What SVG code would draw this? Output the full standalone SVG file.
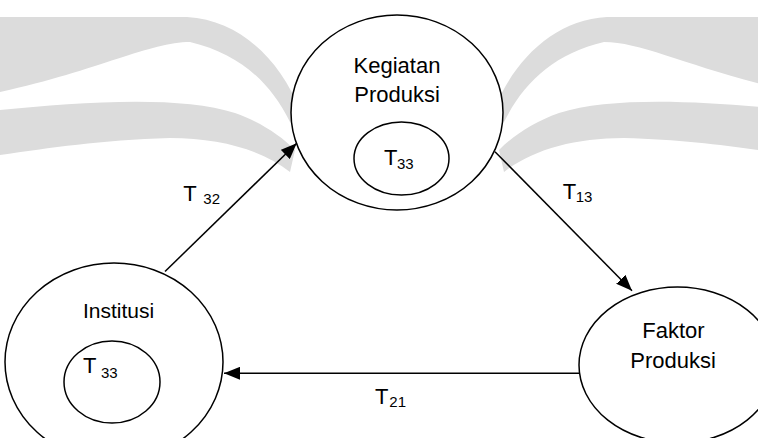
<svg xmlns="http://www.w3.org/2000/svg" width="758" height="438" viewBox="0 0 758 438">
  <style>
    .node { fill: #ffffff; stroke: #000000; stroke-width: 1.5; }
    .lbl { font-family: "Liberation Sans", Arial, sans-serif; fill: #000000; }
    .main { font-size: 22px; }
    .sub { font-size: 15px; }
    .edge { stroke: #000000; stroke-width: 1.5; fill: none; marker-end: url(#arrow); }
    .wm { fill: #dcdcdc; }
  </style>
  <defs>
    <marker id="arrow" markerUnits="userSpaceOnUse" markerWidth="16" markerHeight="13" refX="16" refY="6.5" orient="auto">
      <path d="M0,0 L16,6.5 L0,13 Z" fill="#000000"/>
    </marker>
  </defs>
  <rect width="758" height="438" fill="#ffffff"/>
  <g id="watermark">
    <g id="wm-left">
      <path class="wm" d="M0,17 L187,17 C240,20 280,60 300,110 L290,122 C270,82 240,54 190,42 C150,42 100,70 0,92 Z"/>
      <path class="wm" d="M0,110 C80,102 180,95 235,113 C260,122 280,135 295,150 L290,172 C262,150 220,138 170,138 C100,140 50,148 0,155 Z"/>
    </g>
    <g id="wm-right" transform="translate(794,0) scale(-1,1)">
      <path class="wm" d="M0,17 L187,17 C240,20 280,60 300,110 L290,122 C270,82 240,54 190,42 C150,42 100,70 0,92 Z"/>
      <path class="wm" d="M0,110 C80,102 180,95 235,113 C260,122 280,135 295,150 L290,172 C262,150 220,138 170,138 C100,140 50,148 0,155 Z"/>
    </g>
  </g>
  <g id="node-kegiatan">
    <ellipse class="node" cx="397" cy="112.5" rx="106" ry="97.5"/>
    <text class="lbl main" x="397" y="73.3" text-anchor="middle">Kegiatan</text>
    <text class="lbl main" x="397" y="101.7" text-anchor="middle">Produksi</text>
    <ellipse class="node" cx="401.5" cy="158.5" rx="47.5" ry="36.5"/>
    <text class="lbl"><tspan class="main" x="384" y="165">T</tspan><tspan class="sub" x="397" y="168.5">33</tspan></text>
  </g>
  <g id="node-institusi">
    <ellipse class="node" cx="114" cy="362" rx="109" ry="99"/>
    <text class="lbl" x="118.5" y="318.3" text-anchor="middle" font-size="21">Institusi</text>
    <ellipse class="node" cx="112" cy="382" rx="48" ry="41"/>
    <text class="lbl"><tspan class="main" x="83" y="373.3">T</tspan><tspan class="sub" x="101" y="377.7">33</tspan></text>
  </g>
  <g id="node-faktor">
    <ellipse class="node" cx="677.5" cy="365" rx="98.5" ry="78"/>
    <text class="lbl main" x="673.5" y="338.3" text-anchor="middle">Faktor</text>
    <text class="lbl main" x="673" y="368.3" text-anchor="middle">Produksi</text>
  </g>
  <g id="connectors">
    <line class="edge" x1="165" y1="271.5" x2="296.7" y2="143.3"/>
    <line class="edge" x1="495" y1="151.7" x2="632" y2="290.7"/>
    <line class="edge" x1="580" y1="373.3" x2="224" y2="373.3"/>
    <text class="lbl"><tspan class="main" x="183.3" y="200.7" font-size="23">T</tspan><tspan class="sub" x="203.3" y="204">32</tspan></text>
    <text class="lbl"><tspan class="main" x="562.7" y="199">T</tspan><tspan class="sub" x="575.7" y="201.7">13</tspan></text>
    <text class="lbl"><tspan class="main" x="375" y="404.3">T</tspan><tspan class="sub" x="389.3" y="407.3">21</tspan></text>
  </g>
</svg>
